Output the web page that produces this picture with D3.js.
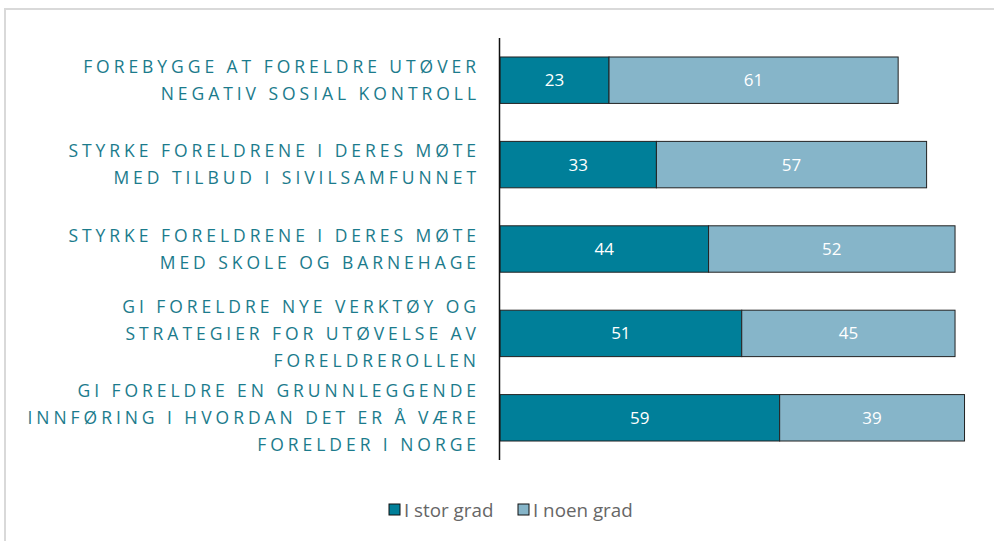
<!DOCTYPE html>
<html>
<head>
<meta charset="utf-8">
<script src="https://cdn.jsdelivr.net/npm/d3@7"></script>
<style>
  body { margin: 0; background: #fff; }
  svg { display: block; font-family: "Source Sans Pro", "Open Sans", "Noto Sans", sans-serif; }
</style>
</head>
<body>
<svg id="chart" width="994" height="541"></svg>
<script>
// Chart data
const categories = [
  ["FOREBYGGE AT FORELDRE UTØVER", "NEGATIV SOSIAL KONTROLL"],
  ["STYRKE FORELDRENE I DERES MØTE", "MED TILBUD I SIVILSAMFUNNET"],
  ["STYRKE FORELDRENE I DERES MØTE", "MED SKOLE OG BARNEHAGE"],
  ["GI FORELDRE NYE VERKTØY OG", "STRATEGIER FOR UTØVELSE AV", "FORELDREROLLEN"],
  ["GI FORELDRE EN GRUNNLEGGENDE", "INNFØRING I HVORDAN DET ER Å VÆRE", "FORELDER I NORGE"]
];
const seriesNames = ["I stor grad", "I noen grad"];
const storGrad = [23, 33, 44, 51, 59];
const noenGrad = [61, 57, 52, 45, 39];
const colors = ["#007f99", "#86b5c9"];

const svg = d3.select("#chart");

// outer frame
svg.append("path")
  .attr("d", "M5,994 V9 H994")
  .attr("fill", "none")
  .attr("stroke", "#d9d9d9")
  .attr("stroke-width", 2);

const x = d3.scaleLinear().domain([0, 100]).range([500, 974]);
const y = d3.scaleBand()
  .domain(d3.range(categories.length))
  .range([38, 460])
  .paddingInner(0.45)
  .paddingOuter(0.225);

const rows = categories.map((c, i) => ({ i, vals: [storGrad[i], noenGrad[i]] }));

const g = svg.append("g");

rows.forEach(r => {
  let start = 0;
  r.vals.forEach((v, k) => {
    g.append("rect")
      .attr("x", x(start))
      .attr("y", y(r.i))
      .attr("width", x(start + v) - x(start))
      .attr("height", y.bandwidth())
      .attr("fill", colors[k])
      .attr("stroke", "#222")
      .attr("stroke-width", 1);
    g.append("text")
      .attr("x", (x(start) + x(start + v)) / 2)
      .attr("y", y(r.i) + y.bandwidth() / 2)
      .attr("dy", "0.35em")
      .attr("text-anchor", "middle")
      .attr("fill", "#fff")
      .attr("font-size", 17)
      .text(v);
    start += v;
  });
});

// axis line
svg.append("line")
  .attr("x1", 499.5).attr("x2", 499.5)
  .attr("y1", 38).attr("y2", 460)
  .attr("stroke", "#111").attr("stroke-width", 1.5);

// category labels
const lineH = 27;
categories.forEach((lines, i) => {
  const cy = y(i) + y.bandwidth() / 2;
  const t = svg.append("text")
    .attr("text-anchor", "end")
    .attr("fill", "#1b7b8c")
    .attr("font-size", 17.5)
    .attr("letter-spacing", 3.95);
  lines.forEach((s, j) => {
    t.append("tspan")
      .attr("x", 480)
      .attr("y", cy + (j - (lines.length - 1) / 2) * lineH)
      .attr("dy", "0.35em")
      .text(s);
  });
});

// legend
const legend = svg.append("g");
const legendItems = [{ x: 389 }, { x: 518 }];
seriesNames.forEach((name, k) => {
  legend.append("rect")
    .attr("x", legendItems[k].x)
    .attr("y", 504)
    .attr("width", 11).attr("height", 11)
    .attr("fill", colors[k])
    .attr("stroke", "#111").attr("stroke-width", 1);
  legend.append("text")
    .attr("x", legendItems[k].x + 15)
    .attr("y", 510)
    .attr("dy", "0.35em")
    .attr("fill", "#666")
    .attr("font-size", 18.8)
    .text(name);
});
</script>
</body>
</html>
